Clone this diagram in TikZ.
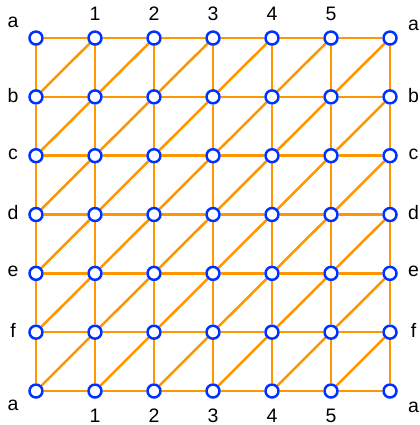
\documentclass[tikz,border=0pt]{standalone}
\usepackage{fontspec}
\setmainfont{Liberation Sans}
\usepackage{tikz}
\usetikzlibrary{backgrounds}
\definecolor{gridorange}{RGB}{255,150,0}
\definecolor{vtxblue}{RGB}{0,50,255}

\begin{document}
\begin{tikzpicture}[
    vtx/.style={circle,draw=vtxblue,fill=white,line width=1.2pt,minimum size=2.2mm,inner sep=0pt},
    edg/.style={gridorange,line width=1.2pt},
    lbl/.style={font=\fontsize{9.4}{11}\selectfont,inner sep=0pt}]
  \useasboundingbox (-0.61,-0.576) rectangle (6.508,6.627);
  % vertices of the 7x7 grid
  \foreach \i in {0,...,6} {
    \foreach \j in {0,...,6} {
      \node[vtx] (v\i\j) at (\i,{\j*0.997}) {};
    }
  }
  % edges behind the vertices
  \begin{scope}[on background layer]
    \foreach \i [count=\k] in {0,...,5} {
      \foreach \j in {0,...,6} {
        \draw[edg] (v\i\j) -- (v\k\j);
        \draw[edg] (v\j\i) -- (v\j\k);
      }
      \foreach \j [count=\m] in {0,...,5} {
        \draw[edg] (v\i\j) -- (v\k\m);
      }
    }
  \end{scope}
  % row labels, left and right
  \foreach \j/\lbl in {5/b, 4/c, 3/d, 2/e, 1/f} {
    \node[lbl] (l\j) at (-0.39,{\j*0.997+0.03}) {\lbl};
    \node[lbl] (r\j) at (6.4,{\j*0.997+0.03}) {\lbl};
  }
  % corner labels
  \node[lbl] (ctl) at (-0.39,6.25) {a};
  \node[lbl] (ctr) at (6.4,6.2) {a};
  \node[lbl] (cbl) at (-0.39,-0.24) {a};
  \node[lbl] (cbr) at (6.4,-0.27) {a};
  % column labels, top and bottom
  \foreach \i in {1,...,5} {
    \node[lbl] (t\i) at (\i,6.39) {\i};
    \node[lbl] (b\i) at (\i,-0.42) {\i};
  }
\end{tikzpicture}
\end{document}
